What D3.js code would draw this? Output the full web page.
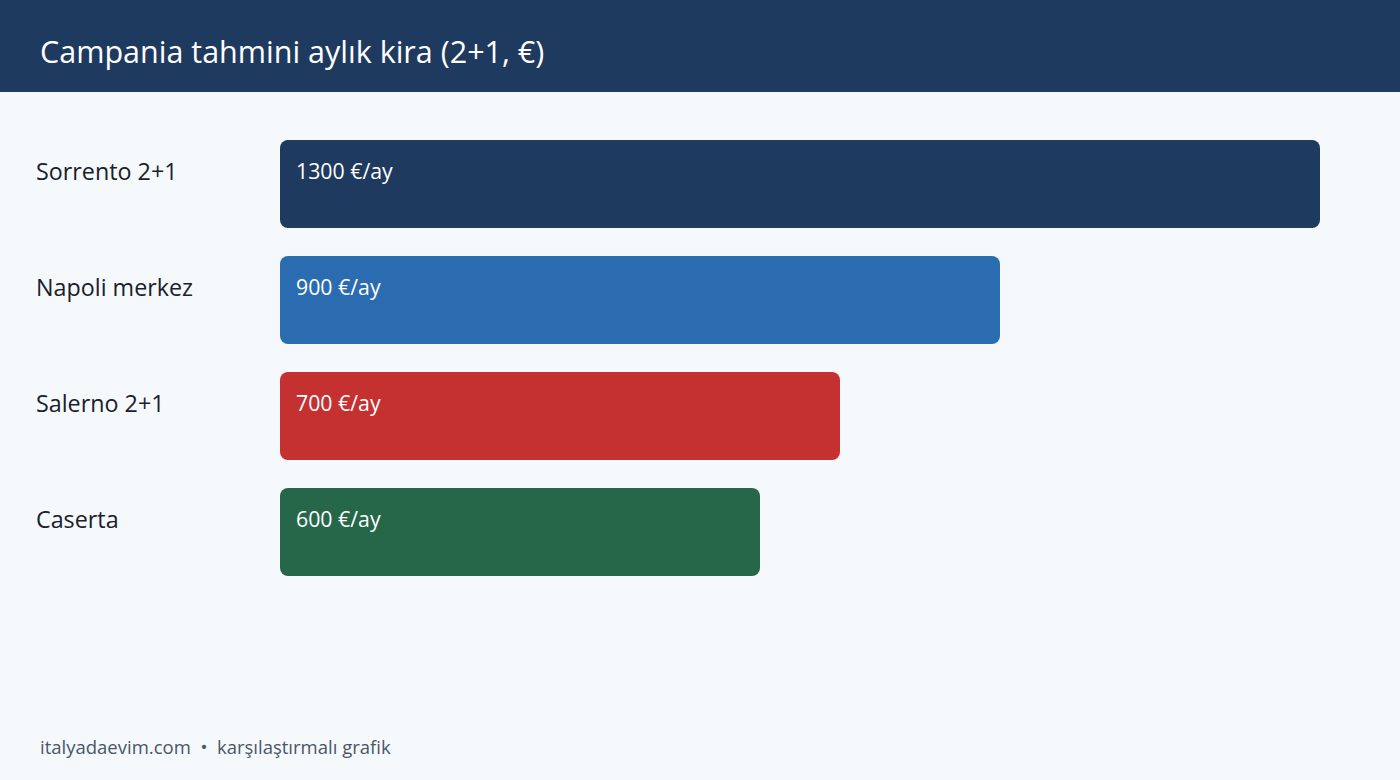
<!DOCTYPE html>
<html><head><meta charset="utf-8">
<script src="https://cdn.jsdelivr.net/npm/d3@7"></script>
<style>html,body{margin:0;padding:0;background:#f5f9fc;}svg{display:block;}</style>
</head><body>
<script>
const title = "Campania tahmini aylık kira (2+1, €)";
const categories = ["Sorrento 2+1", "Napoli merkez", "Salerno 2+1", "Caserta"];
const values = [1300, 900, 700, 600];
const colors = ["#1f3a5f", "#2b6cb0", "#c53030", "#276749"];
const unit = " €/ay";
const footer = "italyadaevim.com  •  karşılaştırmalı grafik";

const W = 1400, H = 780;
const font = "'Open Sans', 'Noto Sans', sans-serif";
const svg = d3.select("body").append("svg").attr("width", W).attr("height", H);
svg.append("rect").attr("width", W).attr("height", H).attr("fill", "#f5f9fc");
svg.append("rect").attr("width", W).attr("height", 92).attr("fill", "#1f3a5f");
svg.append("text").attr("x", 40).attr("y", 63).text(title)
  .attr("fill", "#ffffff").attr("font-family", font).attr("font-size", 30.5);

const x = d3.scaleLinear().domain([0, 1300]).range([280, 1320]);
const y = d3.scaleBand().domain(categories).range([140, 576]).paddingInner(28/116).paddingOuter(0);
const g = svg.append("g");
const rows = g.selectAll("g.row").data(categories.map((c, i) => ({c, v: values[i], col: colors[i]})))
  .enter().append("g");
rows.append("rect")
  .attr("x", x(0)).attr("y", d => y(d.c))
  .attr("width", d => x(d.v) - x(0)).attr("height", y.bandwidth())
  .attr("rx", 8).attr("ry", 8).attr("fill", d => d.col);
rows.append("text").attr("x", 36).attr("y", d => y(d.c) + 40).text(d => d.c)
  .attr("fill", "#1a202c").attr("font-family", font).attr("font-size", 23.3);
rows.append("text").attr("x", x(0) + 16).attr("y", d => y(d.c) + 38.5).text(d => d.v + unit)
  .attr("fill", "#ffffff").attr("font-family", font).attr("font-size", 21.3);
svg.append("text").attr("x", 40).attr("y", 754).text(footer)
  .attr("xml:space", "preserve").style("white-space", "pre")
  .attr("fill", "#4a5568").attr("font-family", font).attr("font-size", 18.5);
</script>
</body></html>
